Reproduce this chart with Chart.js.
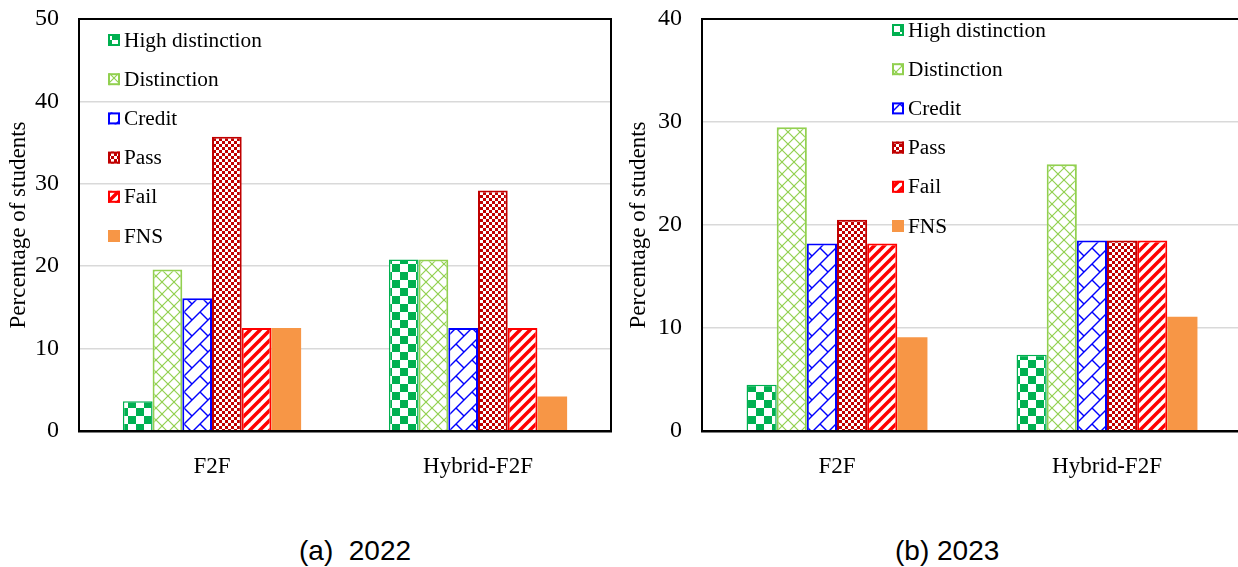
<!DOCTYPE html>
<html>
<head>
<meta charset="utf-8">
<script src="https://cdn.jsdelivr.net/npm/chart.js@4.4.1/dist/chart.umd.min.js"></script>
<style>
  body { margin: 0; width: 1238px; height: 567px; overflow: hidden; background: #fff; position: relative; }
  #boxA { position: absolute; left: 0; top: 0; }
  #boxB { position: absolute; left: 620px; top: 0; }
  .caption {
    position: absolute; top: 537px; line-height: 28px;
    font-family: "Liberation Sans", Arial, sans-serif; font-size: 28px; color: #000;
    white-space: pre;
  }
</style>
</head>
<body>
<canvas id="boxA" width="620" height="480"></canvas>
<canvas id="boxB" width="630" height="480"></canvas>
<div class="caption" style="left:299px">(a)  2022</div>
<div class="caption" style="left:895px">(b) 2023</div>

<script>
// ─── DATI ─────────────────────────────────────────────────────────
const categories = ["F2F", "Hybrid-F2F"];
const grades = ["High distinction", "Distinction", "Credit", "Pass", "Fail", "FNS"];

// 2022
const highDist2022 = [3.6, 20.8];
const distinction2022 = [19.6, 20.8];
const credit2022 = [16.1, 12.5];
const pass2022 = [35.7, 29.2];
const fail2022 = [12.5, 12.5];
const fns2022 = [12.5, 4.2];

// 2023
const highDist2023 = [4.5, 7.4];
const distinction2023 = [29.5, 25.9];
const credit2023 = [18.2, 18.5];
const pass2023 = [20.5, 18.5];
const fail2023 = [18.2, 18.5];
const fns2023 = [9.1, 11.1];

const yMax2022 = 50;
const yMax2023 = 40;
const yStep = 10;

const serif = '"Liberation Serif", "Times New Roman", serif';

// ─── PATTERN ──────────────────────────────────────────────────────
function makePattern(size, draw) {
  const c = document.createElement("canvas");
  c.width = size;
  c.height = size;
  const g = c.getContext("2d");
  g.fillStyle = "#fff";
  g.fillRect(0, 0, size, size);
  draw(g, size);
  return g.createPattern(c, "repeat");
}

function line(g, x1, y1, x2, y2) {
  g.beginPath();
  g.moveTo(x1, y1);
  g.lineTo(x2, y2);
  g.stroke();
}

const patterns = {
  checker: makePattern(16, (g) => {
    g.fillStyle = "#00b050";
    g.fillRect(0, 0, 8, 8);
    g.fillRect(8, 8, 8, 8);
  }),
  lattice: makePattern(12, (g, s) => {
    g.strokeStyle = "#92d050";
    g.lineWidth = 1.2;
    line(g, -1, -1, s + 1, s + 1);
    line(g, s + 1, -1, -1, s + 1);
  }),
  brick: makePattern(16, (g, s) => {
    g.strokeStyle = "#0000ff";
    g.lineWidth = 1.4;
    line(g, -1, s + 1, s + 1, -1);
    line(g, -1, 1, 1, -1);
    line(g, s - 1, s + 1, s + 1, s - 1);
    line(g, s / 2, s / 2, s + 1, s + 1);
  }),
  smallChecker: makePattern(6, (g) => {
    g.fillStyle = "#c00000";
    g.fillRect(0, 0, 6, 6);
    g.fillStyle = "#fff";
    g.fillRect(0, 0, 3, 3);
    g.fillRect(3, 3, 3, 3);
  }),
  stripes: makePattern(10, (g, s) => {
    g.strokeStyle = "#ff0000";
    g.lineWidth = 3.5;
    line(g, -1, s + 1, s + 1, -1);
    line(g, -s / 2 - 1, s / 2 + 1, s / 2 + 1, -s / 2 - 1);
    line(g, s / 2 - 1, s * 1.5 + 1, s * 1.5 + 1, s / 2 - 1);
  }),
};

const styles = [
  { bg: patterns.checker, border: "#00b050", width: 1.5 },
  { bg: patterns.lattice, border: "#92d050", width: 2 },
  { bg: patterns.brick, border: "#0000ff", width: 2 },
  { bg: patterns.smallChecker, border: "#c00000", width: 2 },
  { bg: patterns.stripes, border: "#ff0000", width: 2 },
  { bg: "#f79646", border: "#f79646", width: 0 },
];

function makeDatasets(series) {
  return series.map((values, i) => ({
    label: grades[i],
    data: values,
    backgroundColor: styles[i].bg,
    borderColor: styles[i].border,
    borderWidth: styles[i].width,
    categoryPercentage: 0.67,
    barPercentage: 1.0,
  }));
}

// ─── PLUGIN: legenda dentro l'area + cornice ──────────────────────
const insideLegend = {
  id: "insideLegend",
  afterDraw(chart, args, opts) {
    const ctx = chart.ctx;
    ctx.save();
    ctx.font = `${opts.size}px ${serif}`;
    ctx.textBaseline = "middle";
    ctx.textAlign = "left";
    chart.data.datasets.forEach((ds, i) => {
      const y = opts.y + i * opts.gap;
      ctx.fillStyle = ds.backgroundColor;
      ctx.fillRect(opts.x, y - 6, 12, 12);
      if (ds.borderWidth) {
        ctx.strokeStyle = ds.borderColor;
        ctx.lineWidth = 2;
        ctx.strokeRect(opts.x + 1, y - 5, 10, 10);
      }
      ctx.fillStyle = "#000";
      ctx.fillText(ds.label, opts.x + 16, y + 1);
    });
    ctx.restore();
  },
};

const frame = {
  id: "frame",
  afterDraw(chart) {
    const { ctx, chartArea: a } = chart;
    ctx.save();
    ctx.strokeStyle = "#000";
    ctx.lineWidth = 2;
    ctx.strokeRect(a.left, a.top, a.right - a.left, a.bottom - a.top);
    ctx.restore();
  },
};

function buildChart(id, series, yMax, axisWidth, padRight, legendPos) {
  const ctx = document.getElementById(id).getContext("2d");
  return new Chart(ctx, {
    type: "bar",
    data: { labels: categories, datasets: makeDatasets(series) },
    plugins: [insideLegend, frame],
    options: {
      responsive: false,
      animation: false,
      layout: { padding: { top: 19, right: padRight, left: 0, bottom: 0 } },
      plugins: {
        legend: { display: false },
        tooltip: { enabled: false },
        insideLegend: { x: legendPos.x, y: legendPos.y, gap: 39.2, size: 21.3 },
      },
      scales: {
        x: {
          grid: { display: false, drawTicks: false },
          border: { color: "#000", width: 2.5 },
          ticks: { color: "#000", padding: 22, font: { family: serif, size: 23 } },
          afterFit: (s) => { s.height = 49; },
        },
        y: {
          min: 0,
          max: yMax,
          ticks: { stepSize: yStep, color: "#000", padding: 3, font: { family: serif, size: 24 } },
          grid: { color: "#d9d9d9", lineWidth: 1.5, drawTicks: true, tickLength: 17, tickColor: "rgba(0,0,0,0)" },
          border: { color: "#000", width: 2 },
          title: {
            display: true,
            text: "Percentage of students",
            color: "#000",
            font: { family: serif, size: 23 },
            padding: { top: 5, bottom: 0 },
          },
          afterFit: (s) => { s.width = axisWidth; },
        },
      },
    },
  });
}

// ─── INIT ─────────────────────────────────────────────────────────
buildChart(
  "boxA",
  [highDist2022, distinction2022, credit2022, pass2022, fail2022, fns2022],
  yMax2022, 79, 9, { x: 108, y: 40 },
);
buildChart(
  "boxB",
  [highDist2023, distinction2023, credit2023, pass2023, fail2023, fns2023],
  yMax2023, 82, 8, { x: 272, y: 30 },
);
</script>
</body>
</html>
